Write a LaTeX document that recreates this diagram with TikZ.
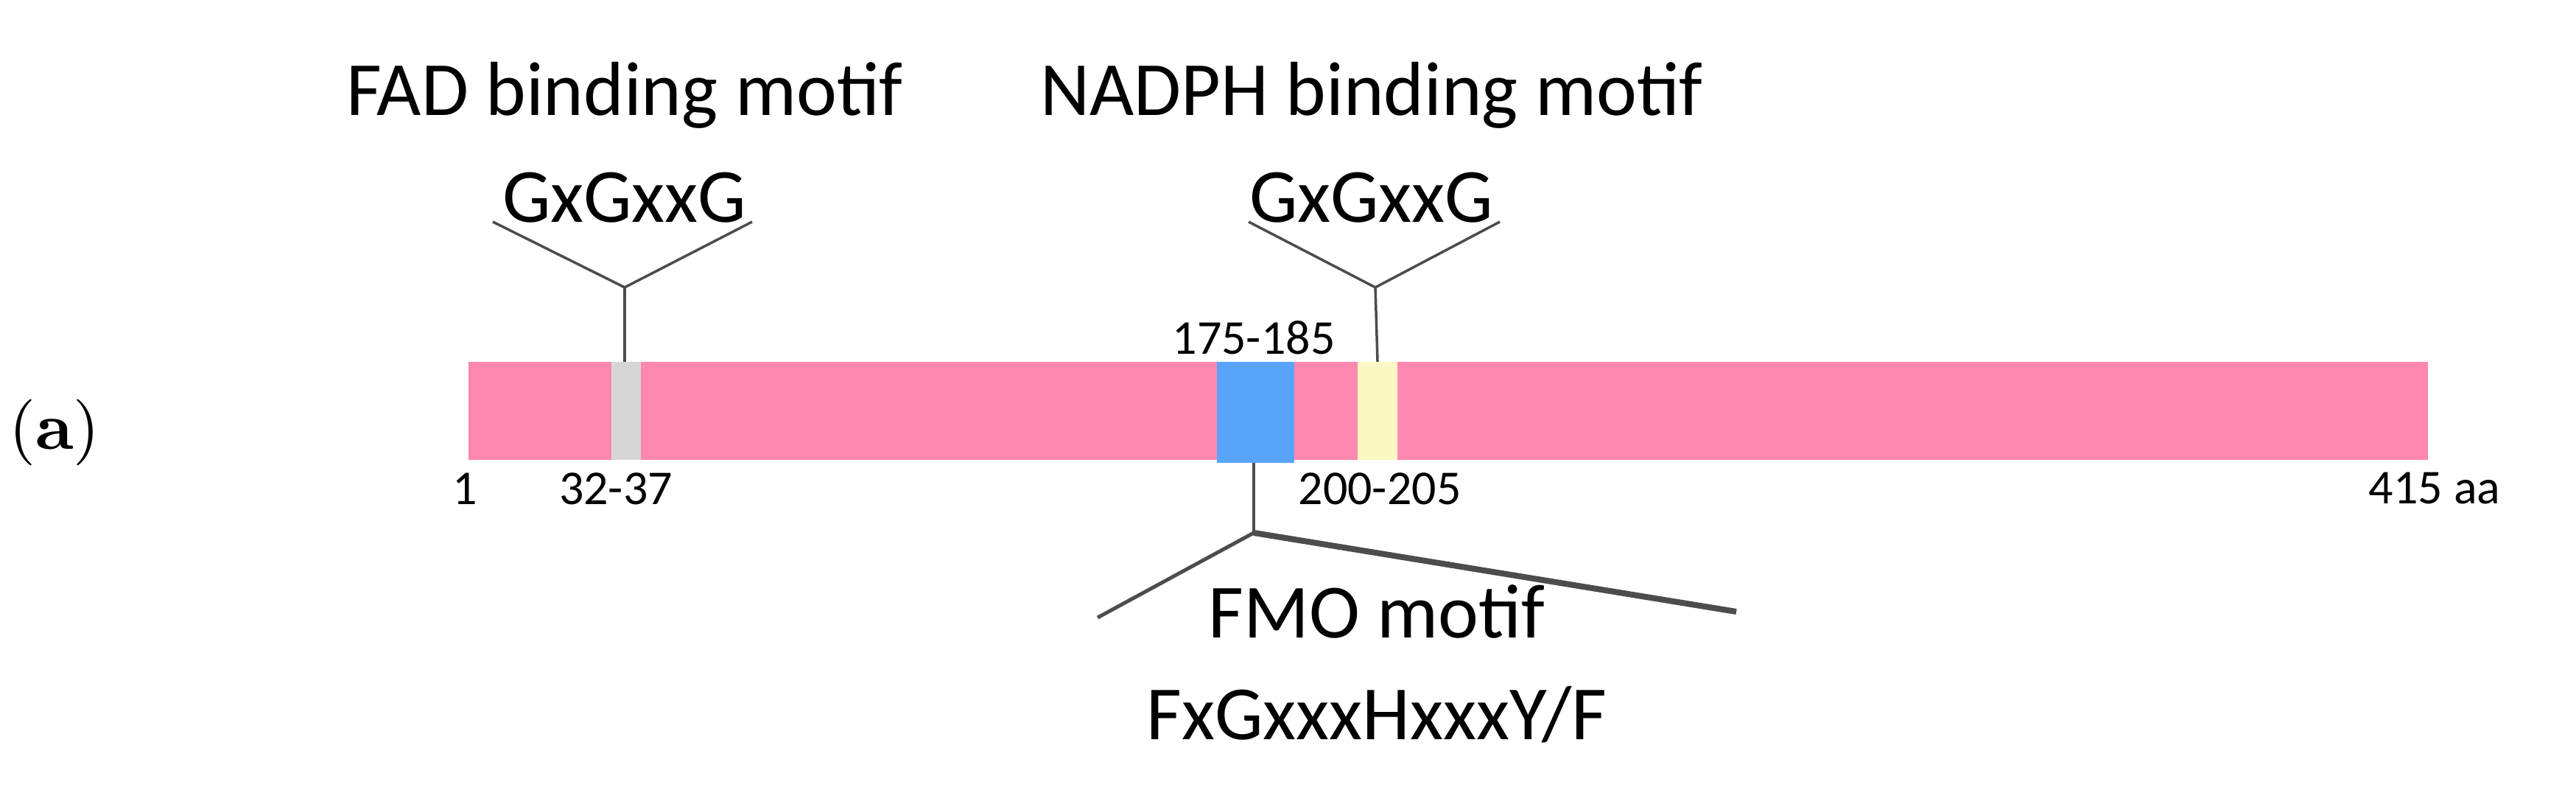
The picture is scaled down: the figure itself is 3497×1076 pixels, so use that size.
\documentclass[tikz,border=0pt]{standalone}
\usepackage{fontspec}
\newfontfamily\carl{Carlito}
\begin{document}
\begin{tikzpicture}[x=0.1pt,y=-0.1pt,
  big/.style={font=\carl\fontsize{10.4}{12}\selectfont,inner sep=0},
  small/.style={font=\carl\fontsize{6.6}{8}\selectfont,inner sep=0},
  ln/.style={draw=black!70,line width=0.35pt}]
\useasboundingbox (0,0) rectangle (3497,1076);
\fill[fill={rgb,255:red,255;green,135;blue,176}] (636,491) rectangle (3296,624);
\fill[fill={rgb,255:red,214;green,214;blue,214}] (830,491) rectangle (870,624);
\fill[fill={rgb,255:red,252;green,248;blue,196}] (1843,491) rectangle (1897,624);
\fill[fill={rgb,255:red,88;green,164;blue,252}] (1652,491) rectangle (1757,628);
\node[big] (fad) at (848,129) {FAD binding motif};
\node[big] (g1) at (848,268) {GxGxxG};
\node[big] (nad) at (1862,129) {NADPH binding motif};
\node[big] (g2) at (1862,268) {GxGxxG};
\node[small] (r1) at (1702,458) {175-185};
\node[small] (r2) at (1873,663) {200-205};
\node[small] (s1) at (631,663) {1};
\node[small] (s2) at (836,663) {32-37};
\node[small] (s3) at (3305,663) {415 aa};
\node[big] (fmo) at (1869,830) {FMO motif};
\node[big] (fx) at (1869,970) {FxGxxxHxxxY/F};
\node[inner sep=0,font=\fontsize{9}{10}\selectfont] (a) at (74,587) {(\textbf{a})};
\coordinate (a1) at (848,390); \coordinate (b1) at (848,491);
\coordinate (a2) at (1867,390); \coordinate (b2) at (1870,491);
\coordinate (a3) at (1702,723); \coordinate (b3) at (1702,628);
\draw[ln] (669,301) -- (a1) -- (1021,301); \draw[ln] (a1) -- (b1);
\draw[ln] (1695,301) -- (a2) -- (2036,301); \draw[ln] (a2) -- (b2);
\draw[ln] (b3) -- (a3);
\draw[ln,line width=0.5pt] (1490,838) -- (a3);
\draw[ln,line width=0.8pt] (a3) -- (2357,830);
\end{tikzpicture}
\end{document}
